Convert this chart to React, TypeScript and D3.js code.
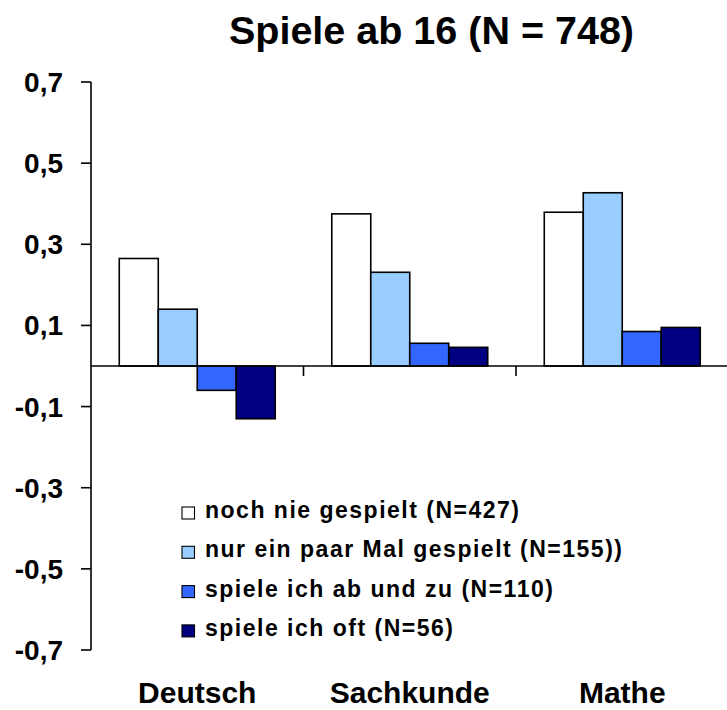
import React from "react";
import * as d3 from "d3";

const categories = ["Deutsch", "Sachkunde", "Mathe"];
const seriesNames = [
  "noch nie gespielt (N=427)",
  "nur ein paar Mal gespielt (N=155))",
  "spiele ich ab und zu (N=110)",
  "spiele ich oft (N=56)",
];
const seriesColors = ["#FFFFFF", "#99CCFF", "#3366FF", "#000080"];
const nochNie = [0.265, 0.375, 0.379];
const paarMal = [0.14, 0.231, 0.427];
const abUndZu = [-0.06, 0.056, 0.085];
const oft = [-0.13, 0.046, 0.095];
const seriesValues = [nochNie, paarMal, abUndZu, oft];
const yTicks = [0.7, 0.5, 0.3, 0.1, -0.1, -0.3, -0.5, -0.7];
const title = "Spiele ab 16 (N = 748)";

const W = 727;
const H = 710;
const FONT = "'Liberation Sans', Arial, Helvetica, sans-serif";

export default function App() {
  const y = d3.scaleLinear().domain([-0.7, 0.7]).range([650, 82]);
  const x = d3.scaleBand<string>().domain(categories).range([91, 728.5]).paddingInner(0).paddingOuter(0);
  const xs = d3
    .scaleBand<string>()
    .domain(seriesNames)
    .range([0, x.bandwidth()])
    .paddingInner(0)
    .paddingOuter(0.725);
  const y0 = y(0);
  const fmt = (v: number) => d3.format(".1f")(v).replace(".", ",").replace("−", "-");

  return (
    <svg width={W} height={H} style={{ position: "absolute", left: 0, top: 0, background: "#fff" }}>
      <rect x={0} y={0} width={W} height={H} fill="#fff" />
      {/* title */}
      <text
        x={431.5}
        y={44}
        textAnchor="middle"
        fontFamily={FONT}
        fontWeight="bold"
        fontSize={39.5}
        fill="#000"
      >
        {title}
      </text>

      {/* bars */}
      {categories.map((c, ci) =>
        seriesNames.map((s, si) => {
          const v = seriesValues[si][ci];
          const top = Math.min(y(v), y0);
          const h = Math.abs(y(v) - y0);
          return (
            <rect
              key={c + s}
              x={(x(c) as number) + (xs(s) as number)}
              y={top}
              width={xs.bandwidth()}
              height={h}
              fill={seriesColors[si]}
              stroke="#000"
              strokeWidth={1.6}
            />
          );
        })
      )}

      {/* y axis */}
      <line x1={91} x2={91} y1={y(0.7)} y2={y(-0.7)} stroke="#000" strokeWidth={1.6} />
      {yTicks.map((t) => (
        <g key={t}>
          <line x1={81} x2={91} y1={y(t)} y2={y(t)} stroke="#000" strokeWidth={1.6} />
          <text
            x={63}
            y={y(t) + 10}
            textAnchor="end"
            fontFamily={FONT}
            fontWeight="bold"
            fontSize={28}
            fill="#000"
          >
            {fmt(t)}
          </text>
        </g>
      ))}

      {/* x axis at zero */}
      <line x1={91} x2={728} y1={y0} y2={y0} stroke="#000" strokeWidth={1.6} />
      {categories.slice(1).map((c) => (
        <line key={c} x1={x(c) as number} x2={x(c) as number} y1={y0} y2={y0 + 10} stroke="#000" strokeWidth={1.6} />
      ))}

      {/* category labels */}
      {categories.map((c) => (
        <text
          key={c}
          x={(x(c) as number) + x.bandwidth() / 2}
          y={703}
          textAnchor="middle"
          fontFamily={FONT}
          fontWeight="bold"
          fontSize={30}
          fill="#000"
        >
          {c}
        </text>
      ))}

      {/* legend */}
      {seriesNames.map((s, i) => {
        const base = 518 + i * 39.3;
        return (
          <g key={s}>
            <rect x={182} y={base - 11} width={12.5} height={12} fill={seriesColors[i]} stroke="#000" strokeWidth={1.1} />
            <text
              x={205}
              y={base}
              fontFamily={FONT}
              fontWeight="bold"
              fontSize={23}
              letterSpacing={1.5}
              fill="#000"
            >
              {s}
            </text>
          </g>
        );
      })}
    </svg>
  );
}
